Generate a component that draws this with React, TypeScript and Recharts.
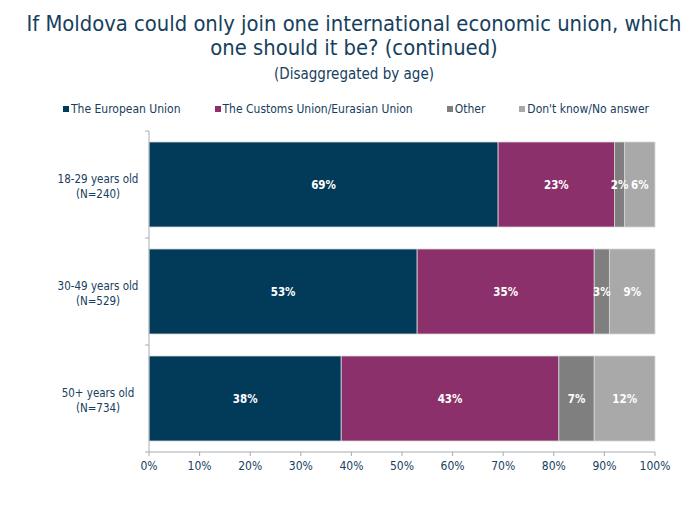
import { BarChart, Bar, XAxis, YAxis, LabelList } from 'recharts'

const groups = ['18-29 years old', '30-49 years old', '50+ years old']
const sampleSizes = ['(N=240)', '(N=529)', '(N=734)']
const europeanUnion = [69, 53, 38]
const customsUnion = [23, 35, 43]
const other = [2, 3, 7]
const dontKnow = [6, 9, 12]
const xTicks = [0, 10, 20, 30, 40, 50, 60, 70, 80, 90, 100]

const SERIES = [
  { key: 'eu', name: 'The European Union', color: '#023a5a' },
  { key: 'cu', name: 'The Customs Union/Eurasian Union', color: '#8b306b' },
  { key: 'other', name: 'Other', color: '#7f7f7f' },
  { key: 'dk', name: "Don't know/No answer", color: '#a9a9a9' },
]

const data = groups.map((g, i) => ({
  name: g,
  n: sampleSizes[i],
  eu: europeanUnion[i],
  cu: customsUnion[i],
  other: other[i],
  dk: dontKnow[i],
}))

const FONT = '"DejaVu Sans Condensed", "DejaVu Sans", sans-serif'
const TEXT = '#17405e'
const AXIS = '#a6acb4'

function CategoryTick(props: any) {
  const { x, y, payload, index } = props
  const half = payload.offset || 0
  const row = data[index] || data.find((d) => d.name === payload.value)
  return (
    <g>
      <line x1={x + 4} x2={x + 8} y1={y - half} y2={y - half} stroke={AXIS} />
      {index === data.length - 1 && (
        <line x1={x + 4} x2={x + 8} y1={y + half} y2={y + half} stroke={AXIS} />
      )}
      <text x={x - 43} y={y - 2} textAnchor="middle" fill={TEXT} fontSize={11.5} fontFamily={FONT}>
        {payload.value}
      </text>
      <text x={x - 43} y={y + 13} textAnchor="middle" fill={TEXT} fontSize={11.5} fontFamily={FONT}>
        {row ? row.n : ''}
      </text>
    </g>
  )
}

export default function App() {
  return (
    <div style={{ position: 'relative', width: 692, height: 506, margin: -8, background: '#fff' }}>
      <div style={{ position: 'absolute', top: 12, left: 0, width: 692, textAlign: 'center', fontFamily: FONT, color: TEXT }}>
        <div style={{ fontSize: 21.8, lineHeight: '24px', paddingLeft: 16 }}>
          If Moldova could only join one international economic union, which
          <br />
          one should it be? (continued)
        </div>
        <div style={{ fontSize: 15, marginTop: 5, paddingLeft: 16 }}>(Disaggregated by age)</div>
      </div>
      <div
        style={{
          position: 'absolute', top: 102, left: 0, width: 692, display: 'flex', justifyContent: 'center',
          gap: 34, fontFamily: FONT, fontSize: 12, color: TEXT, paddingLeft: 10,
        }}
      >
        {SERIES.map((s) => (
          <span key={s.key} style={{ display: 'flex', alignItems: 'center' }}>
            <span style={{ width: 6, height: 6, background: s.color, marginRight: 2, display: 'inline-block' }} />
            {s.name}
          </span>
        ))}
      </div>
      <BarChart
        width={692}
        height={506}
        data={data}
        layout="vertical"
        margin={{ top: 131, right: 37, bottom: 24, left: 0 }}
        barSize={85}
      >
        <XAxis
          type="number"
          domain={[0, 100]}
          ticks={xTicks}
          tickFormatter={(v) => `${v}%`}
          stroke={AXIS}
          tickSize={4}
          tickMargin={5}
          tick={{ fill: TEXT, fontSize: 12, fontFamily: FONT }}
          height={30}
        />
        <YAxis
          type="category"
          dataKey="name"
          width={149}
          stroke={AXIS}
          tickLine={false}
          tick={<CategoryTick />}
        />
        {SERIES.map((s) => (
          <Bar key={s.key} dataKey={s.key} name={s.name} stackId="a" fill={s.color} stroke="#d6d6d6" strokeWidth={0.8} isAnimationActive={false}>
            <LabelList
              dataKey={s.key}
              position="center"
              formatter={(v: any) => `${v}%`}
              fill="#fff"
              fontSize={11.5}
              fontWeight="bold"
              fontFamily={FONT}
            />
          </Bar>
        ))}
      </BarChart>
    </div>
  )
}
